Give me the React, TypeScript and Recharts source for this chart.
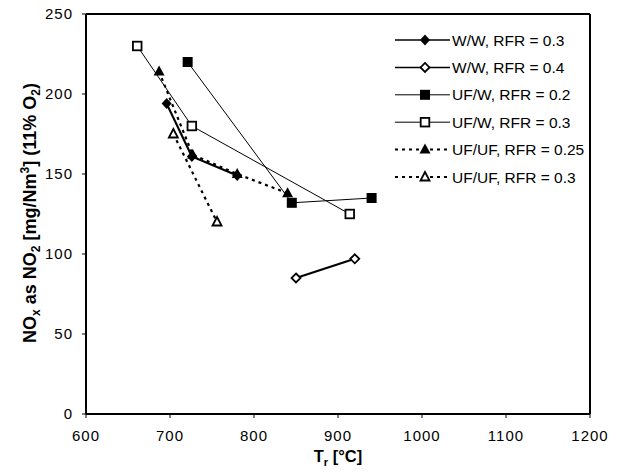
import React from 'react';
import { LineChart, Line, XAxis, YAxis, ReferenceLine } from 'recharts';

const xTicks = [600, 700, 800, 900, 1000, 1100, 1200];
const yTicks = [0, 50, 100, 150, 200, 250];

const wwRfr03 = [
  { x: 696, y: 194 },
  { x: 726, y: 161 },
  { x: 780, y: 149 },
];
const wwRfr04 = [
  { x: 850, y: 85 },
  { x: 920, y: 97 },
];
const ufwRfr02 = [
  { x: 721, y: 220 },
  { x: 845, y: 132 },
  { x: 940, y: 135 },
];
const ufwRfr03 = [
  { x: 661, y: 230 },
  { x: 726, y: 180 },
  { x: 914, y: 125 },
];
const ufufRfr025 = [
  { x: 687, y: 214 },
  { x: 727, y: 162 },
  { x: 780, y: 150 },
  { x: 840, y: 138 },
];
const ufufRfr03 = [
  { x: 704, y: 175 },
  { x: 756, y: 120 },
];

type Marker = 'diamondFilled' | 'diamondOpen' | 'squareFilled' | 'squareOpen' | 'triFilled' | 'triOpen';

const drawMarker = (kind: Marker, cx: number, cy: number, key?: string | number) => {
  switch (kind) {
    case 'diamondFilled':
      return <path key={key} d={`M${cx},${cy - 5.5} L${cx + 5},${cy} L${cx},${cy + 5.5} L${cx - 5},${cy} Z`} fill="#000" />;
    case 'diamondOpen':
      return <path key={key} d={`M${cx},${cy - 4.5} L${cx + 4.5},${cy} L${cx},${cy + 4.5} L${cx - 4.5},${cy} Z`} fill="#fff" stroke="#000" strokeWidth={1.8} />;
    case 'squareFilled':
      return <rect key={key} x={cx - 5} y={cy - 5} width={10} height={10} fill="#000" />;
    case 'squareOpen':
      return <rect key={key} x={cx - 4.3} y={cy - 4.3} width={8.6} height={8.6} fill="#fff" stroke="#000" strokeWidth={1.8} />;
    case 'triFilled':
      return <path key={key} d={`M${cx},${cy - 6} L${cx + 5.5},${cy + 4} L${cx - 5.5},${cy + 4} Z`} fill="#000" />;
    case 'triOpen':
      return <path key={key} d={`M${cx},${cy - 5} L${cx + 4.5},${cy + 3.5} L${cx - 4.5},${cy + 3.5} Z`} fill="#fff" stroke="#000" strokeWidth={1.8} />;
  }
};

const series = [
  { name: 'W/W, RFR = 0.3', data: wwRfr03, marker: 'diamondFilled' as Marker, width: 2.2, dash: undefined },
  { name: 'W/W, RFR = 0.4', data: wwRfr04, marker: 'diamondOpen' as Marker, width: 2.2, dash: undefined },
  { name: 'UF/W, RFR = 0.2', data: ufwRfr02, marker: 'squareFilled' as Marker, width: 1, dash: undefined },
  { name: 'UF/W, RFR = 0.3', data: ufwRfr03, marker: 'squareOpen' as Marker, width: 1, dash: undefined },
  { name: 'UF/UF, RFR = 0.25', data: ufufRfr025, marker: 'triFilled' as Marker, width: 2.2, dash: '3 4' },
  { name: 'UF/UF, RFR = 0.3', data: ufufRfr03, marker: 'triOpen' as Marker, width: 2.2, dash: '3 4' },
];

const font = 'Arial, "Liberation Sans", sans-serif';

const LegendBox = () => (
  <svg width={215} height={160} style={{ position: 'absolute', left: 395, top: 32 }}>
    {series.map((s, i) => {
      const y = 8 + i * 27.4;
      return (
        <g key={s.name}>
          <line x1={0} y1={y} x2={55} y2={y} stroke="#000" strokeWidth={s.dash ? 2 : s.width === 1 ? 1 : 1.5} strokeDasharray={s.dash} />
          {drawMarker(s.marker, 30, y)}
          <text x={57} y={y + 5.5} fontSize={15.5} fontFamily={font} fill="#000">{s.name}</text>
        </g>
      );
    })}
  </svg>
);

const YLabel = () => (
  <text transform="translate(36,213) rotate(-90)" textAnchor="middle" fontSize={18} fontWeight="bold" fontFamily={font} fill="#000">
    NO<tspan fontSize={12} dy={4}>x</tspan>
    <tspan dy={-4}> as NO</tspan><tspan fontSize={12} dy={4}>2</tspan>
    <tspan dy={-4}> [mg/Nm</tspan><tspan fontSize={12} dy={-7}>3</tspan>
    <tspan dy={7}>] (11% O</tspan><tspan fontSize={12} dy={4}>2</tspan>
    <tspan dy={-4}>)</tspan>
  </text>
);

const XLabel = () => (
  <text x={338} y={462} textAnchor="middle" fontSize={16.5} fontWeight="bold" fontFamily={font} fill="#000">
    T<tspan fontSize={11} dy={4}>r</tspan><tspan dy={-4}> [°C]</tspan>
  </text>
);

export default function App() {
  const tick = { fill: '#000', fontSize: 15, fontFamily: font, letterSpacing: 1 };
  return (
    <div style={{ position: 'absolute', left: 0, top: 0, width: 618, height: 475, background: '#fff' }}>
      <LineChart width={618} height={475} margin={{ top: 14, right: 28, bottom: 0, left: 0 }}>
        <XAxis
          dataKey="x"
          type="number"
          domain={[600, 1200]}
          ticks={xTicks}
          height={61}
          tick={tick}
          tickSize={4}
          tickMargin={12}
          axisLine={{ stroke: '#000', strokeWidth: 2 }}
          tickLine={{ stroke: '#000' }}
          allowDataOverflow
        />
        <YAxis
          type="number"
          domain={[0, 250]}
          ticks={yTicks}
          width={86}
          tick={tick}
          tickSize={4}
          tickMargin={9}
          axisLine={{ stroke: '#000', strokeWidth: 2 }}
          tickLine={{ stroke: '#000' }}
        />
        <ReferenceLine y={250} stroke="#000" strokeWidth={2} />
        <ReferenceLine x={1200} stroke="#000" strokeWidth={2} />
        {series.map((s) => (
          <Line
            key={s.name}
            data={s.data}
            dataKey="y"
            name={s.name}
            type="linear"
            stroke="#000"
            strokeWidth={s.width}
            strokeDasharray={s.dash}
            isAnimationActive={false}
            dot={(p: any) => drawMarker(s.marker, p.cx, p.cy, `${s.name}-${p.index}`)}
            activeDot={false}
          />
        ))}
        <YLabel />
        <XLabel />
      </LineChart>
      <LegendBox />
    </div>
  );
}
